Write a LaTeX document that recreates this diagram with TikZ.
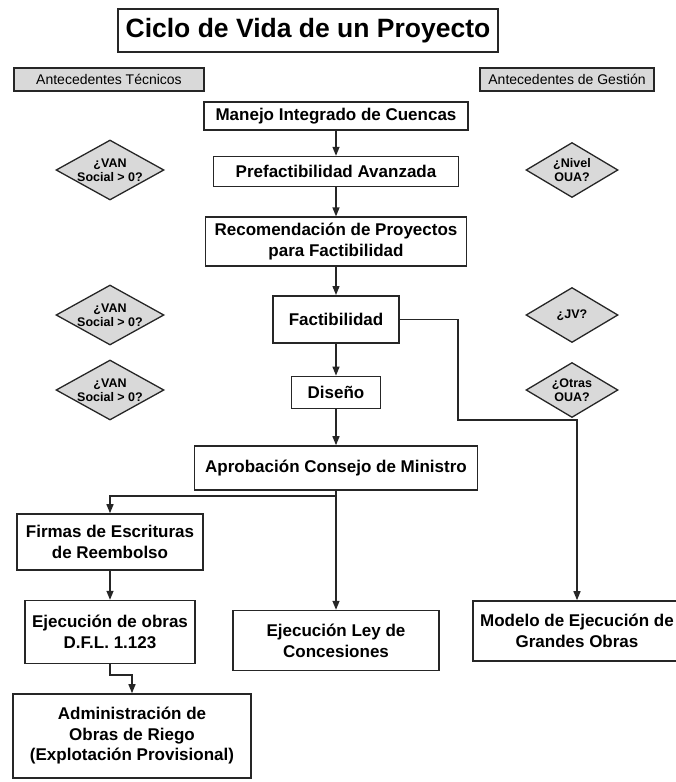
\documentclass[tikz,border=0pt]{standalone}
\usepackage{fontspec}
\setmainfont{Liberation Sans}
\usetikzlibrary{arrows.meta,positioning,shapes.geometric}
\definecolor{linegray}{HTML}{262626}
\definecolor{boxgray}{HTML}{D9D9D9}

\begin{document}
\begin{tikzpicture}[
  x=1pt, y=-1pt,
  box/.style={draw=linegray, line width=1.6pt, fill=white, align=center,
    inner sep=2pt, font=\fontsize{17}{20.5}\selectfont\bfseries},
  header/.style={draw=linegray, line width=1.2pt, fill=boxgray,
    minimum height=23pt, inner sep=0pt, font=\fontsize{14}{16}\selectfont},
  decision/.style={diamond, draw=linegray, line width=1.3pt, fill=boxgray,
    inner sep=0pt, align=center, font=\fontsize{12.5}{14}\selectfont\bfseries},
  vandec/.style={decision, minimum width=108pt, minimum height=60pt, shape aspect=1.8},
  ouadec/.style={decision, minimum width=92pt, minimum height=55pt, shape aspect=1.67},
  arrow/.style={-{Triangle[length=9pt,width=7pt]}, line width=1.3pt, draw=linegray}
]
\useasboundingbox (0,0) rectangle (676,782);
\clip (0,0) rectangle (676,782);

\node[box, font=\fontsize{26.5}{30}\selectfont\bfseries, minimum width=380pt,
  minimum height=43pt] (title) at (308,30.5) {Ciclo de Vida de un Proyecto};
\node[header, minimum width=190pt] (tecnicos) at (109,79.5) {Antecedentes Técnicos};
\node[header, minimum width=174pt] (gestion) at (567,79.5) {Antecedentes de Gestión};

% main column
\node[box, minimum width=264pt, minimum height=28pt] (manejo) at (336,116) {Manejo Integrado de Cuencas};
\node[box, below=25pt of manejo, minimum width=245pt, minimum height=30pt] (prefact) {Prefactibilidad Avanzada};
\node[box, below=29pt of prefact, minimum width=261pt, minimum height=49pt] (recom) {Recomendación de Proyectos\\para Factibilidad};
\node[box, below=28pt of recom, minimum width=126pt, minimum height=47pt] (factib) {Factibilidad};
\node[box, below=32pt of factib, minimum width=89pt, minimum height=32pt] (diseno) {Diseño};
\node[box, below=36pt of diseno, minimum width=283pt, minimum height=44pt] (aprob) {Aprobación Consejo de Ministro};
\node[box, below=119pt of aprob, minimum width=206pt, minimum height=60pt] (ley) {Ejecución Ley de\\Concesiones};

% left branch
\node[box, minimum width=186pt, minimum height=56pt] (firmas) at (110,542) {Firmas de Escrituras\\de Reembolso};
\node[box, below=29pt of firmas, minimum width=170pt, minimum height=63pt] (obras) {Ejecución de obras\\D.F.L. 1.123};
\node[box, minimum width=238pt, minimum height=84pt] (admin) at (132,736) {Administración de\\Obras de Riego\\(Explotación Provisional)};

% right branch
\node[box, minimum width=208pt, minimum height=60pt] (modelo) at (577,631) {Modelo de Ejecución de\\Grandes Obras};

% questions
\node[vandec] (van1) at (110,170) {¿VAN\\Social > 0?};
\node[vandec] (van2) at (110,315) {¿VAN\\Social > 0?};
\node[vandec] (van3) at (110,390) {¿VAN\\Social > 0?};
\node[ouadec] (nivel) at (572,170) {¿Nivel\\OUA?};
\node[ouadec] (jv) at (572,315) {¿JV?};
\node[ouadec] (otras) at (572,390) {¿Otras\\OUA?};

\coordinate (jog) at (458,420);
\coordinate (split) at (335.5,496);
\coordinate (kink) at (110,675);

\draw[arrow] (manejo) -- (prefact);
\draw[arrow] (prefact) -- (recom);
\draw[arrow] (recom) -- (factib);
\draw[arrow] (factib) -- (diseno);
\draw[arrow] (diseno) -- (aprob);
\draw[arrow] (factib.east) -| (jog) -| (modelo.north);
\draw[arrow] (aprob) -- (ley);
\draw[arrow] (split) -| (firmas.north);
\draw[arrow] (firmas) -- (obras);
\draw[arrow] (obras.south) -- (kink) -| (admin.north);
\end{tikzpicture}
\end{document}
